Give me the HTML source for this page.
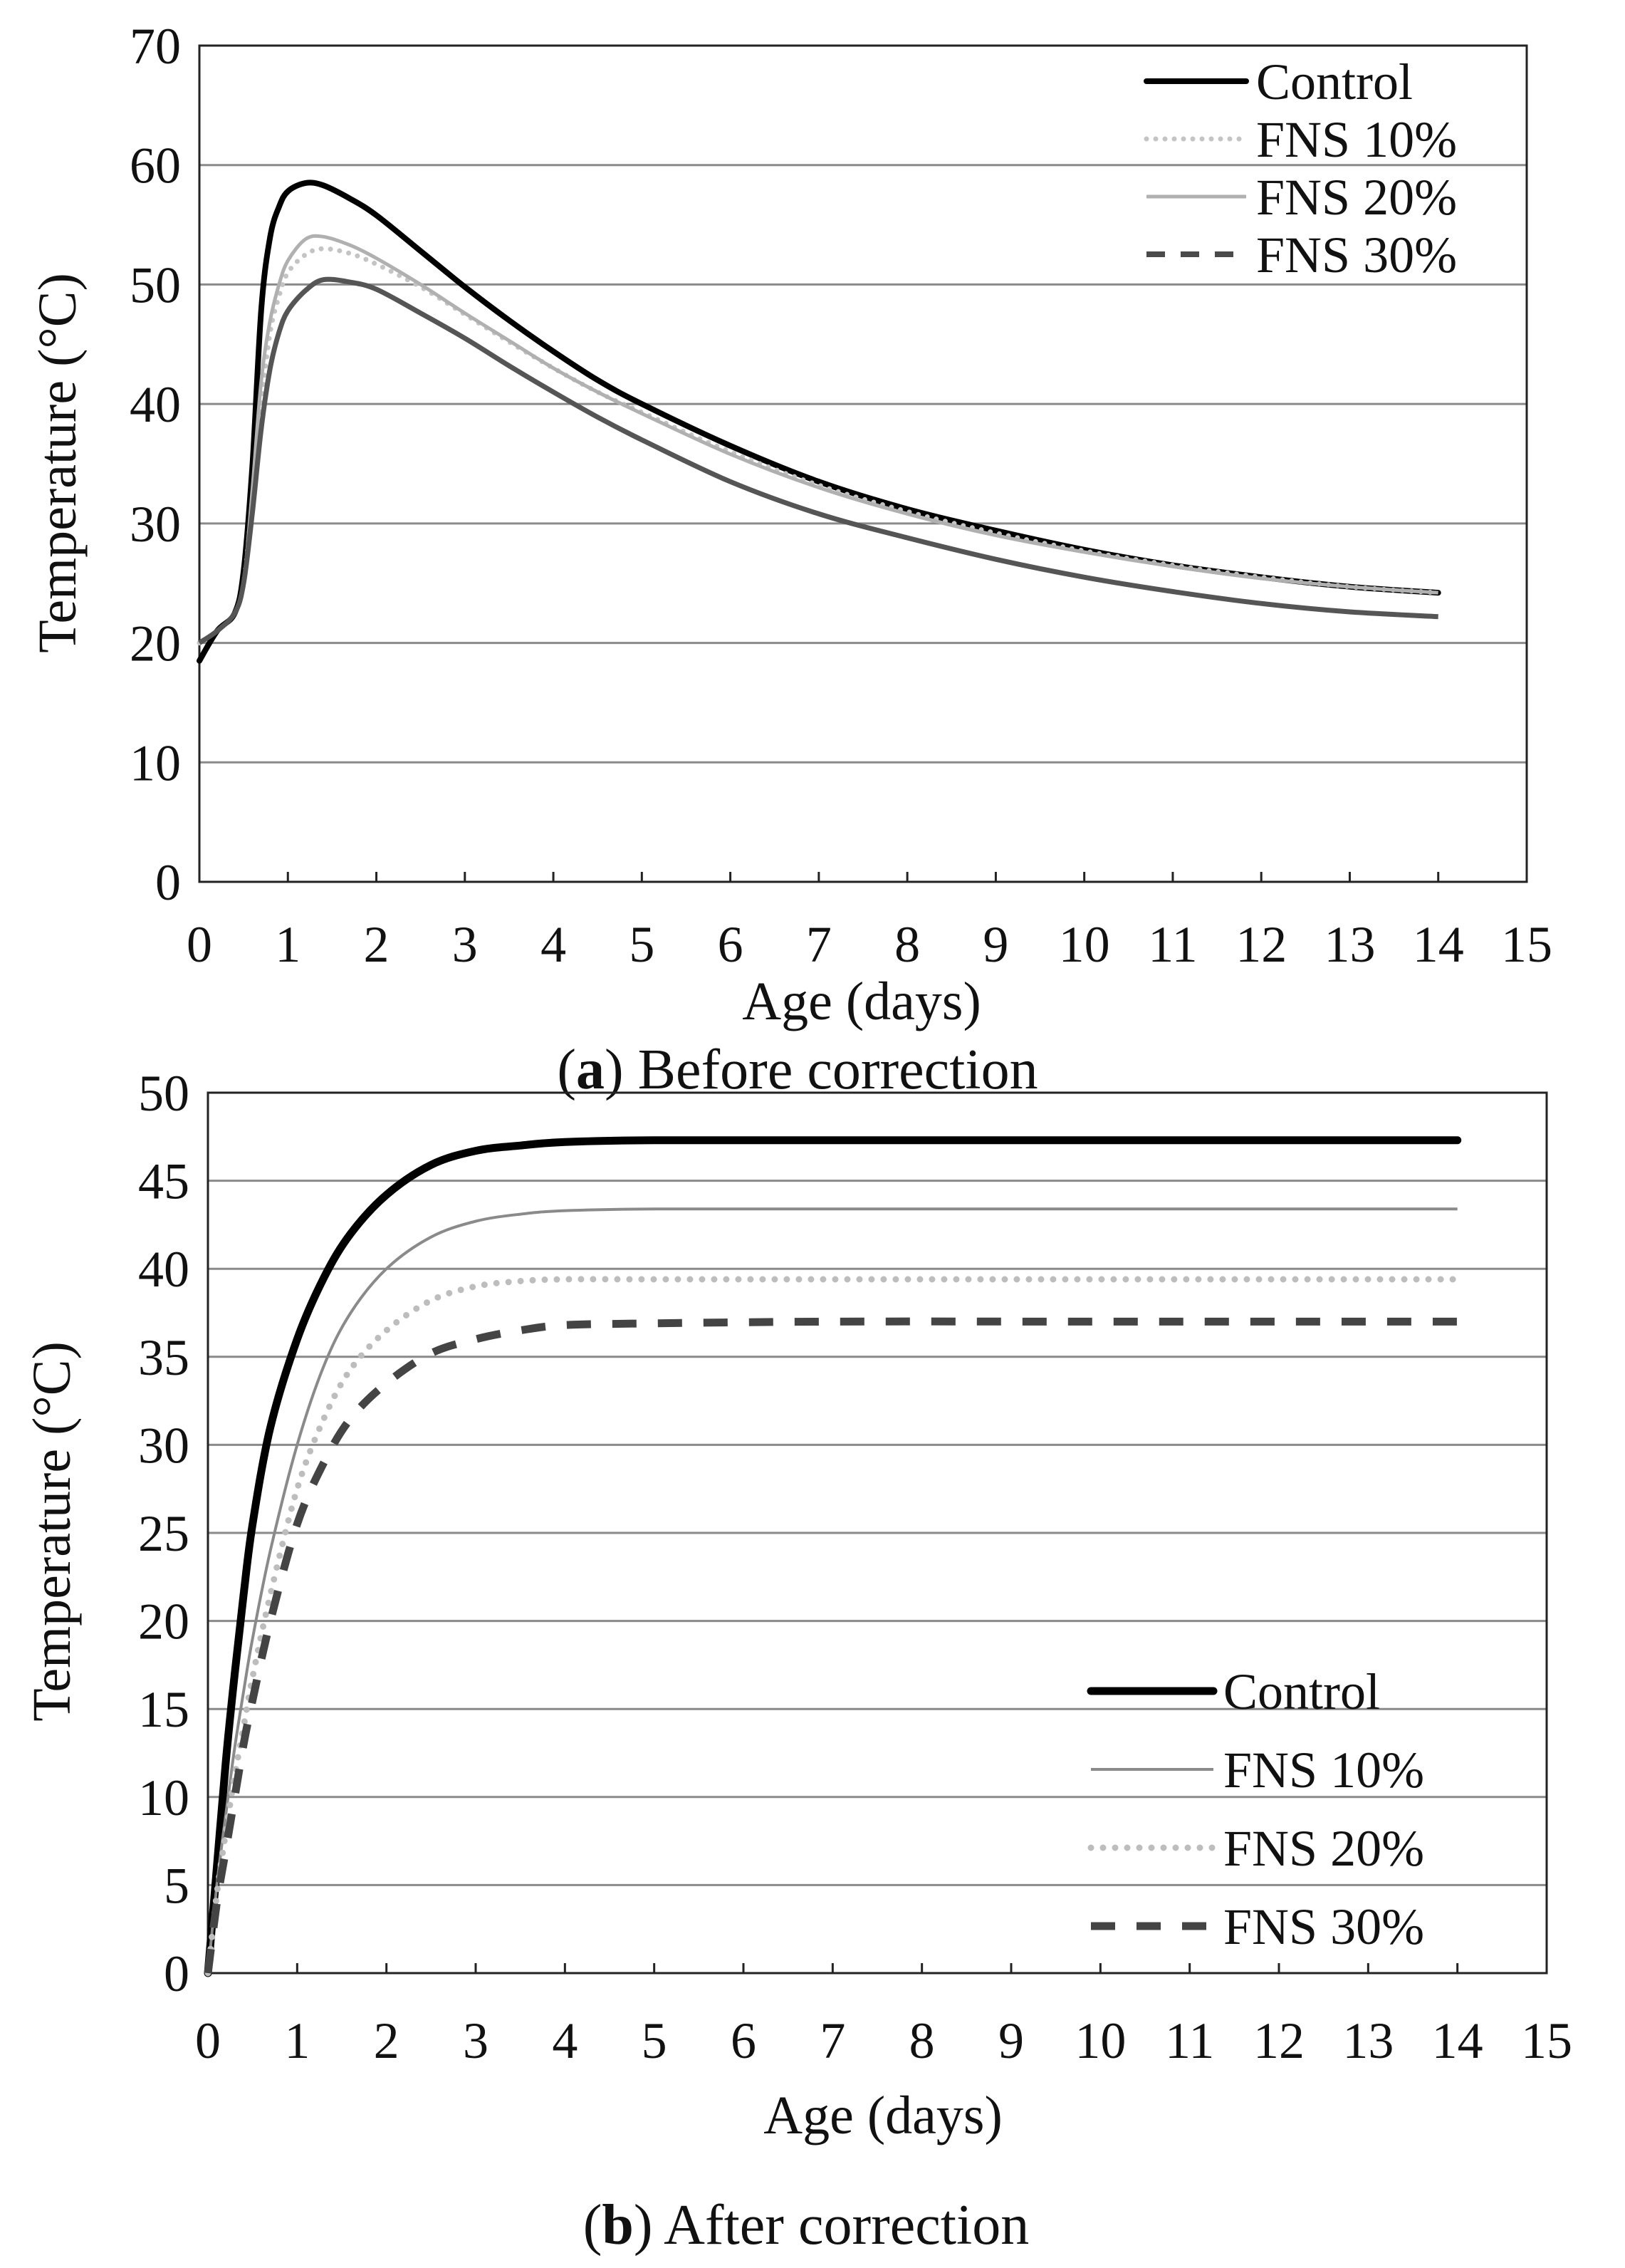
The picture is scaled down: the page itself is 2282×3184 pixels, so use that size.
<!DOCTYPE html>
<html><head><meta charset="utf-8"><style>
html,body{margin:0;padding:0;background:#fff}
svg{display:block}
text{font-family:"Liberation Serif",serif;fill:#111}
</style></head><body>
<svg id="fig" width="2282" height="3184" viewBox="0 0 2282 3184" xmlns="http://www.w3.org/2000/svg">
<g id="chartA"></g>
<g id="chartB"></g>
</svg>
<script>
const xTicks=[0,1,2,3,4,5,6,7,8,9,10,11,12,13,14,15];
const aYTicks=[0,10,20,30,40,50,60,70];
const bYTicks=[0,5,10,15,20,25,30,35,40,45,50];
const aDays=[0,0.2,0.4,0.5,0.6,0.7,0.8,0.9,1.0,1.2,1.4,1.7,2,2.5,3,3.5,4,4.5,5,6,7,8,9,10,11,12,13,14];
const aControl=[18.5,21,22.5,26,35,48,54,56.5,57.8,58.5,58.3,57.2,55.8,52.8,49.8,47,44.4,42,40,36.5,33.5,31.2,29.4,27.8,26.5,25.5,24.7,24.2];
const aFns10=[20,21,22.5,25,32,40,46,49,51,52.5,53,52.6,51.7,49.8,47.5,45.2,43,41,39.3,36,33.2,31,29.2,27.7,26.5,25.5,24.7,24.2];
const aFns20=[20,21,22.5,25,33,42,47,50,52,53.8,54,53.3,52.2,50,47.6,45.3,43,41,39.2,35.8,33,30.8,29,27.6,26.4,25.4,24.7,24.2];
const aFns30=[20,21,22.5,25,31,38,43,46,47.8,49.5,50.4,50.2,49.6,47.6,45.5,43.2,41,38.9,37,33.5,30.8,28.8,27,25.5,24.3,23.3,22.6,22.2];
const bDays=[0,0.1,0.2,0.3,0.4,0.5,0.7,1,1.3,1.6,2,2.5,3,3.5,4,5,7,10,14];
const bControl=[0,6,12,17,21.5,25.5,31,36,39.5,42,44.2,45.9,46.7,47.0,47.2,47.3,47.3,47.3,47.3];
const bFns10=[0,5,9,12.8,16,19,24,30,34.5,37.5,40,41.8,42.7,43.1,43.3,43.4,43.4,43.4,43.4];
const bFns20=[0,4.5,8,11.2,14,16.8,21.5,27.5,31.5,34.3,36.5,38.2,39,39.3,39.4,39.4,39.4,39.4,39.4];
const bFns30=[0,4,7,10,13,15.5,20,25.5,29,31.5,33.5,35.2,36,36.5,36.8,36.9,37,37,37];
const NS="http://www.w3.org/2000/svg";
function mk(p,tag,at){const e=document.createElementNS(NS,tag);for(const k in at)e.setAttribute(k,at[k]);p.appendChild(e);return e;}
function smooth(pts){let d="M"+pts[0][0]+","+pts[0][1];for(let i=0;i<pts.length-1;i++){const p0=pts[Math.max(i-1,0)],p1=pts[i],p2=pts[i+1],p3=pts[Math.min(i+2,pts.length-1)];
const c1=[p1[0]+(p2[0]-p0[0])/6,p1[1]+(p2[1]-p0[1])/6],c2=[p2[0]-(p3[0]-p1[0])/6,p2[1]-(p3[1]-p1[1])/6];
d+=" C"+c1[0].toFixed(1)+","+c1[1].toFixed(1)+" "+c2[0].toFixed(1)+","+c2[1].toFixed(1)+" "+p2[0].toFixed(1)+","+p2[1].toFixed(1);}return d;}
function chart(g,cfg){
 const X=v=>cfg.L+(cfg.R-cfg.L)*v/15, Y=v=>cfg.B-(cfg.B-cfg.T)*v/cfg.ymax;
 cfg.yTicks.forEach(t=>{
  if(t>0&&t<cfg.ymax){const l=mk(g,"line",{x1:cfg.L,x2:cfg.R,y1:Y(t),y2:Y(t),stroke:"#8a8a8a","stroke-width":3});
  }
  const tx=mk(g,"text",{x:cfg.L-26,y:Y(t)+25,"text-anchor":"end","font-size":72});tx.textContent=t;
  
 });
 xTicks.forEach(t=>{
  const l=mk(g,"line",{x1:X(t),x2:X(t),y1:cfg.B,y2:cfg.B-14,stroke:"#222","stroke-width":3});
  
  const tx=mk(g,"text",{x:X(t),y:cfg.xlY,"text-anchor":"middle","font-size":72});tx.textContent=t;
  
 });
 const fr=mk(g,"rect",{x:cfg.L,y:cfg.T,width:cfg.R-cfg.L,height:cfg.B-cfg.T,fill:"none",stroke:"#222","stroke-width":3});
 
 cfg.series.forEach(s=>{
  const pts=s.vals.map((v,i)=>[X(cfg.days[i]),Y(v)]);
  const p=mk(g,"path",Object.assign({d:smooth(pts),fill:"none"},s.line||s.style));
  
 });
 cfg.series.forEach((s,i)=>{
  const y=cfg.legY+i*cfg.legDy;
  const l=mk(g,"line",Object.assign({x1:cfg.legX1,x2:cfg.legX2,y1:y,y2:y},s.style));
  
  const tx=mk(g,"text",{x:cfg.legX2+14,y:y+25,"font-size":72});tx.textContent=s.label;
  
 });
 const xt=mk(g,"text",{x:cfg.xtX,y:cfg.xtY,"text-anchor":"middle","font-size":76});xt.textContent="Age (days)";
 
 const yt=mk(g,"text",{x:0,y:0,"text-anchor":"middle","font-size":76,transform:"translate("+cfg.ytX+","+cfg.ytY+") rotate(-90)"});yt.textContent="Temperature (°C)";
 
 const cp=mk(g,"text",{x:cfg.capX,y:cfg.capY,"text-anchor":"middle","font-size":80});
 const b=document.createElementNS(NS,"tspan");cp.appendChild(document.createTextNode("("));b.setAttribute("font-weight","bold");b.textContent=cfg.capLetter;cp.appendChild(b);cp.appendChild(document.createTextNode(") "+cfg.cap));
 
}
const sBlack={stroke:"#000","stroke-width":8,"stroke-linecap":"round"};
chart(document.getElementById("chartA"),{L:280,R:2144,T:64,B:1238,ymax:70,yTicks:aYTicks,days:aDays,xlY:1350,
 series:[{key:"control",label:"Control",vals:aControl,style:sBlack},
 {key:"fns10",label:"FNS 10%",vals:aFns10,style:{stroke:"#c4c4c4","stroke-width":7,"stroke-dasharray":"0 13","stroke-linecap":"round"}},
 {key:"fns20",label:"FNS 20%",vals:aFns20,style:{stroke:"#b0b0b0","stroke-width":5}},
 {key:"fns30",label:"FNS 30%",vals:aFns30,style:{stroke:"#4a4a4a","stroke-width":8,"stroke-dasharray":"26 22"},line:{stroke:"#555","stroke-width":7}}],
 legX1:1610,legX2:1750,legY:114,legDy:81,xtX:1210,xtY:1431,ytX:106,ytY:650,capX:1120,capY:1528,capLetter:"a",cap:"Before correction"});
chart(document.getElementById("chartB"),{L:292,R:2172,T:1534,B:2770,ymax:50,yTicks:bYTicks,days:bDays,xlY:2889,
 series:[{key:"control",label:"Control",vals:bControl,style:{stroke:"#000","stroke-width":11,"stroke-linecap":"round"}},
 {key:"fns10",label:"FNS 10%",vals:bFns10,style:{stroke:"#8a8a8a","stroke-width":4}},
 {key:"fns20",label:"FNS 20%",vals:bFns20,style:{stroke:"#bdbdbd","stroke-width":9,"stroke-dasharray":"0 17","stroke-linecap":"round"}},
 {key:"fns30",label:"FNS 30%",vals:bFns30,style:{stroke:"#444","stroke-width":11,"stroke-dasharray":"34 30"}}],
 legX1:1532,legX2:1704,legY:2374,legDy:110,xtX:1240,xtY:2995,ytX:98,ytY:2150,capX:1132,capY:3150,capLetter:"b",cap:"After correction"});
</script>
</body></html>
